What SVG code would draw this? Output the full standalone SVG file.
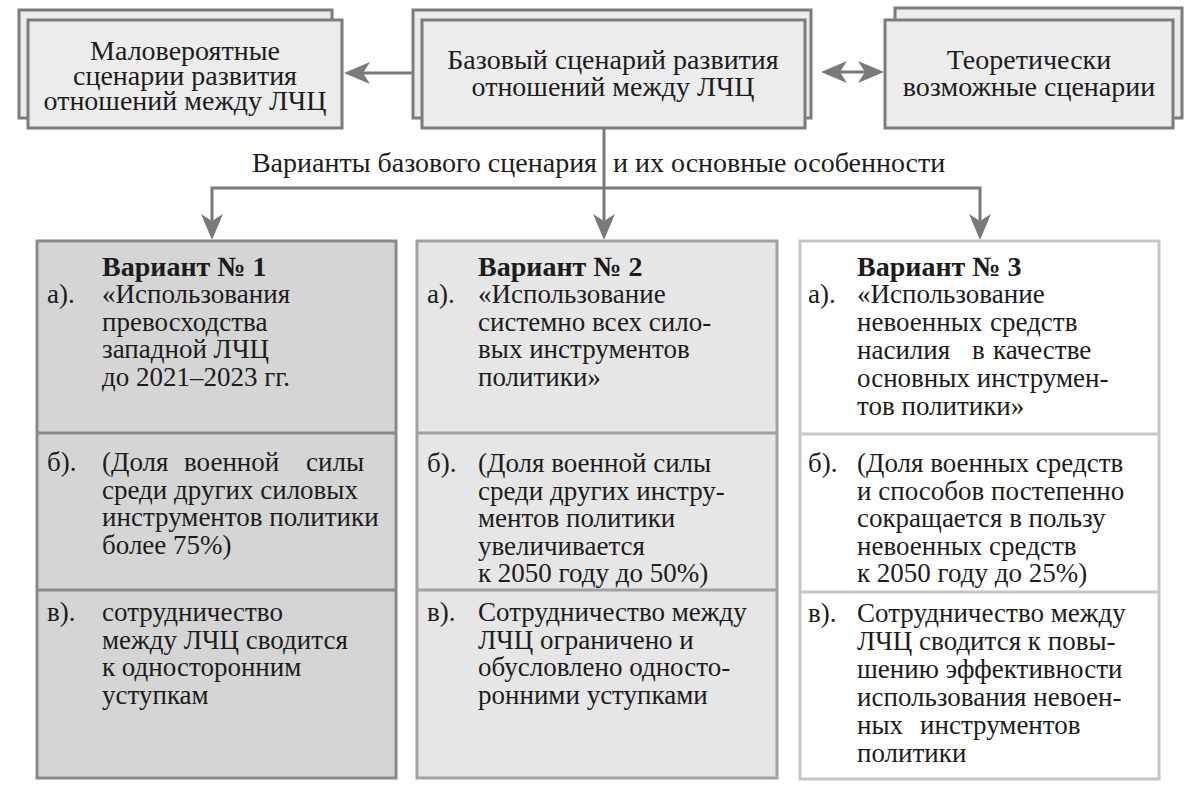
<svg xmlns="http://www.w3.org/2000/svg" width="1200" height="798" viewBox="0 0 1200 798">
<rect width="1200" height="798" fill="#ffffff"/>

<g id="node-unlikely">
<rect x="19" y="10" width="313" height="108" fill="#ececec" stroke="#7c7c7c" stroke-width="3"/>
<rect x="28" y="20" width="314" height="108" fill="#ececec" stroke="#7c7c7c" stroke-width="3"/>
<text x="185" y="60" font-family="Liberation Serif, Times New Roman, serif" font-size="28" fill="#1c1c1c" text-anchor="middle">Маловероятные</text>
<text x="185" y="85" font-family="Liberation Serif, Times New Roman, serif" font-size="28" fill="#1c1c1c" text-anchor="middle">сценарии развития</text>
<text x="185" y="110" font-family="Liberation Serif, Times New Roman, serif" font-size="28" fill="#1c1c1c" text-anchor="middle">отношений между ЛЧЦ</text>
</g>

<g id="node-base">
<rect x="413" y="10" width="398" height="108" fill="#ececec" stroke="#7c7c7c" stroke-width="3"/>
<rect x="422" y="20" width="383" height="108" fill="#ececec" stroke="#7c7c7c" stroke-width="3"/>
<text x="613" y="69" font-family="Liberation Serif, Times New Roman, serif" font-size="28" fill="#1c1c1c" text-anchor="middle">Базовый сценарий развития</text>
<text x="613" y="96" font-family="Liberation Serif, Times New Roman, serif" font-size="28" fill="#1c1c1c" text-anchor="middle">отношений между ЛЧЦ</text>
</g>

<g id="node-theoretical">
<rect x="895" y="8" width="287" height="110" fill="#ececec" stroke="#7c7c7c" stroke-width="3"/>
<rect x="885" y="20" width="288" height="108" fill="#ececec" stroke="#7c7c7c" stroke-width="3"/>
<text x="1029" y="69" font-family="Liberation Serif, Times New Roman, serif" font-size="28" fill="#1c1c1c" text-anchor="middle">Теоретически</text>
<text x="1029" y="96" font-family="Liberation Serif, Times New Roman, serif" font-size="28" fill="#1c1c1c" text-anchor="middle">возможные сценарии</text>
</g>

<g id="connectors">
<g stroke="#7a7a7a" stroke-width="3" fill="none">
<line x1="413" y1="73" x2="360" y2="73"/>
<line x1="836" y1="72" x2="869" y2="72"/>
<line x1="604" y1="128" x2="604" y2="225"/>
<polyline points="212,225 212,188 980,188 980,225"/>
</g>
<g fill="#7a7a7a">
<path d="M344,73 L370,62 L363,73 L370,84 z"/>
<path d="M821,72 L847,61 L840,72 L847,83 z"/>
<path d="M884,72 L858,61 L865,72 L858,83 z"/>
<path d="M212,240 L201,214 L212,221 L223,214 z"/>
<path d="M604,240 L593,214 L604,221 L615,214 z"/>
<path d="M980,240 L969,214 L980,221 L991,214 z"/>
</g>
</g>

<g id="label-variants">
<text x="597" y="172" font-family="Liberation Serif, Times New Roman, serif" font-size="28" fill="#1c1c1c" text-anchor="end">Варианты базового сценария</text>
<text x="613" y="172" font-family="Liberation Serif, Times New Roman, serif" font-size="28" fill="#1c1c1c">и их основные особенности</text>
</g>

<g id="node-variant1">
<rect x="37" y="241" width="359" height="537" fill="#d5d5d5" stroke="#8a8a8a" stroke-width="3"/>
<line x1="37" y1="433" x2="396" y2="433" stroke="#8a8a8a" stroke-width="3"/>
<line x1="37" y1="590" x2="396" y2="590" stroke="#8a8a8a" stroke-width="3"/>
<text x="102" y="276" font-family="Liberation Serif, Times New Roman, serif" font-size="28" font-weight="bold" fill="#1c1c1c">Вариант № 1</text>
<text x="47" y="303" font-family="Liberation Serif, Times New Roman, serif" font-size="27" fill="#1c1c1c">а).</text>
<text x="102" y="303" font-family="Liberation Serif, Times New Roman, serif" font-size="27" fill="#1c1c1c">«Использования</text>
<text x="102" y="330.5" font-family="Liberation Serif, Times New Roman, serif" font-size="27" fill="#1c1c1c">превосходства</text>
<text x="102" y="358" font-family="Liberation Serif, Times New Roman, serif" font-size="27" fill="#1c1c1c">западной ЛЧЦ</text>
<text x="102" y="385.5" font-family="Liberation Serif, Times New Roman, serif" font-size="27" fill="#1c1c1c">до 2021–2023 гг.</text>
<text x="47" y="471" font-family="Liberation Serif, Times New Roman, serif" font-size="27" fill="#1c1c1c">б).</text>
<text font-family="Liberation Serif, Times New Roman, serif" font-size="27" fill="#1c1c1c"><tspan x="102" y="471">(Доля</tspan><tspan x="184" y="471">военной</tspan><tspan x="306" y="471">силы</tspan></text>
<text x="102" y="498.5" font-family="Liberation Serif, Times New Roman, serif" font-size="27" fill="#1c1c1c">среди других силовых</text>
<text x="102" y="526" font-family="Liberation Serif, Times New Roman, serif" font-size="27" fill="#1c1c1c">инструментов политики</text>
<text x="102" y="553.5" font-family="Liberation Serif, Times New Roman, serif" font-size="27" fill="#1c1c1c">более 75%)</text>
<text x="47" y="621" font-family="Liberation Serif, Times New Roman, serif" font-size="27" fill="#1c1c1c">в).</text>
<text x="102" y="621" font-family="Liberation Serif, Times New Roman, serif" font-size="27" fill="#1c1c1c">сотрудничество</text>
<text x="102" y="648.5" font-family="Liberation Serif, Times New Roman, serif" font-size="27" fill="#1c1c1c">между ЛЧЦ сводится</text>
<text x="102" y="676" font-family="Liberation Serif, Times New Roman, serif" font-size="27" fill="#1c1c1c">к односторонним</text>
<text x="102" y="703.5" font-family="Liberation Serif, Times New Roman, serif" font-size="27" fill="#1c1c1c">уступкам</text>
</g>

<g id="node-variant2">
<rect x="417" y="241" width="360" height="537" fill="#e6e6e6" stroke="#a2a2a2" stroke-width="3"/>
<line x1="417" y1="433" x2="777" y2="433" stroke="#a2a2a2" stroke-width="3"/>
<line x1="417" y1="590" x2="777" y2="590" stroke="#a2a2a2" stroke-width="3"/>
<text x="478" y="276" font-family="Liberation Serif, Times New Roman, serif" font-size="28" font-weight="bold" fill="#1c1c1c">Вариант № 2</text>
<text x="427" y="303" font-family="Liberation Serif, Times New Roman, serif" font-size="27" fill="#1c1c1c">а).</text>
<text x="478" y="303" font-family="Liberation Serif, Times New Roman, serif" font-size="27" fill="#1c1c1c">«Использование</text>
<text x="478" y="330.5" font-family="Liberation Serif, Times New Roman, serif" font-size="27" fill="#1c1c1c">системно всех сило-</text>
<text x="478" y="358" font-family="Liberation Serif, Times New Roman, serif" font-size="27" fill="#1c1c1c">вых инструментов</text>
<text x="478" y="385.5" font-family="Liberation Serif, Times New Roman, serif" font-size="27" fill="#1c1c1c">политики»</text>
<text x="427" y="472" font-family="Liberation Serif, Times New Roman, serif" font-size="27" fill="#1c1c1c">б).</text>
<text x="478" y="472" font-family="Liberation Serif, Times New Roman, serif" font-size="27" fill="#1c1c1c">(Доля военной силы</text>
<text x="478" y="499.5" font-family="Liberation Serif, Times New Roman, serif" font-size="27" fill="#1c1c1c">среди других инстру-</text>
<text x="478" y="527" font-family="Liberation Serif, Times New Roman, serif" font-size="27" fill="#1c1c1c">ментов политики</text>
<text x="478" y="554.5" font-family="Liberation Serif, Times New Roman, serif" font-size="27" fill="#1c1c1c">увеличивается</text>
<text x="478" y="582" font-family="Liberation Serif, Times New Roman, serif" font-size="27" fill="#1c1c1c">к 2050 году до 50%)</text>
<text x="427" y="621" font-family="Liberation Serif, Times New Roman, serif" font-size="27" fill="#1c1c1c">в).</text>
<text x="478" y="621" font-family="Liberation Serif, Times New Roman, serif" font-size="27" fill="#1c1c1c">Сотрудничество между</text>
<text x="478" y="648.5" font-family="Liberation Serif, Times New Roman, serif" font-size="27" fill="#1c1c1c">ЛЧЦ ограничено и</text>
<text x="478" y="676" font-family="Liberation Serif, Times New Roman, serif" font-size="27" fill="#1c1c1c">обусловлено односто-</text>
<text x="478" y="703.5" font-family="Liberation Serif, Times New Roman, serif" font-size="27" fill="#1c1c1c">ронними уступками</text>
</g>

<g id="node-variant3">
<rect x="800" y="241" width="359" height="538" fill="#ffffff" stroke="#c6c6c6" stroke-width="3"/>
<line x1="800" y1="434" x2="1159" y2="434" stroke="#c6c6c6" stroke-width="3"/>
<line x1="800" y1="592" x2="1159" y2="592" stroke="#c6c6c6" stroke-width="3"/>
<text x="857" y="276" font-family="Liberation Serif, Times New Roman, serif" font-size="28" font-weight="bold" fill="#1c1c1c">Вариант № 3</text>
<text x="808" y="303" font-family="Liberation Serif, Times New Roman, serif" font-size="27" fill="#1c1c1c">а).</text>
<text x="857" y="303" font-family="Liberation Serif, Times New Roman, serif" font-size="27" fill="#1c1c1c">«Использование</text>
<text font-family="Liberation Serif, Times New Roman, serif" font-size="27" fill="#1c1c1c"><tspan x="857" y="331">невоенных</tspan><tspan x="990" y="331">средств</tspan></text>
<text font-family="Liberation Serif, Times New Roman, serif" font-size="27" fill="#1c1c1c"><tspan x="857" y="359">насилия</tspan><tspan x="972" y="359">в</tspan><tspan x="993" y="359">качестве</tspan></text>
<text x="857" y="387" font-family="Liberation Serif, Times New Roman, serif" font-size="27" fill="#1c1c1c">основных инструмен-</text>
<text x="857" y="415" font-family="Liberation Serif, Times New Roman, serif" font-size="27" fill="#1c1c1c">тов политики»</text>
<text x="808" y="472" font-family="Liberation Serif, Times New Roman, serif" font-size="27" fill="#1c1c1c">б).</text>
<text x="857" y="472" font-family="Liberation Serif, Times New Roman, serif" font-size="27" fill="#1c1c1c">(Доля военных средств</text>
<text x="857" y="499.5" font-family="Liberation Serif, Times New Roman, serif" font-size="27" fill="#1c1c1c">и способов постепенно</text>
<text x="857" y="527" font-family="Liberation Serif, Times New Roman, serif" font-size="27" fill="#1c1c1c">сокращается в пользу</text>
<text x="857" y="554.5" font-family="Liberation Serif, Times New Roman, serif" font-size="27" fill="#1c1c1c">невоенных средств</text>
<text x="857" y="582" font-family="Liberation Serif, Times New Roman, serif" font-size="27" fill="#1c1c1c">к 2050 году до 25%)</text>
<text x="808" y="622" font-family="Liberation Serif, Times New Roman, serif" font-size="27" fill="#1c1c1c">в).</text>
<text x="857" y="622" font-family="Liberation Serif, Times New Roman, serif" font-size="27" fill="#1c1c1c">Сотрудничество между</text>
<text x="857" y="650" font-family="Liberation Serif, Times New Roman, serif" font-size="27" fill="#1c1c1c">ЛЧЦ сводится к повы-</text>
<text x="857" y="678" font-family="Liberation Serif, Times New Roman, serif" font-size="27" fill="#1c1c1c">шению эффективности</text>
<text x="857" y="706" font-family="Liberation Serif, Times New Roman, serif" font-size="27" fill="#1c1c1c">использования невоен-</text>
<text font-family="Liberation Serif, Times New Roman, serif" font-size="27" fill="#1c1c1c"><tspan x="857" y="734">ных</tspan><tspan x="920" y="734">инструментов</tspan></text>
<text x="857" y="762" font-family="Liberation Serif, Times New Roman, serif" font-size="27" fill="#1c1c1c">политики</text>
</g>
</svg>
